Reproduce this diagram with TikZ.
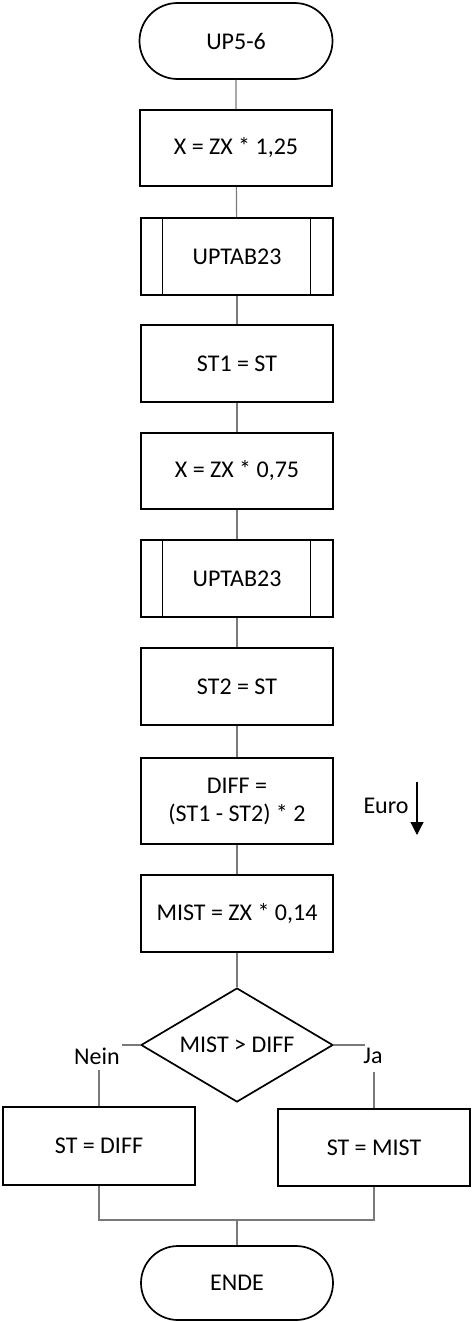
\documentclass[tikz,border=0pt]{standalone}
\usepackage{fontspec}
\setmainfont{Carlito}
\usetikzlibrary{shapes.misc,shapes.geometric,arrows.meta}
\begin{document}
\begin{tikzpicture}[x=1pt,y=-1pt,
  every node/.style={font=\fontsize{24}{28}\selectfont},
  proc/.style={draw=black,line width=1.7pt,rectangle,minimum width=192pt,minimum height=77pt,inner sep=0pt,align=center},
  term/.style={draw=black,line width=1.7pt,rounded rectangle,minimum width=193pt,minimum height=76pt,inner sep=0pt},
  dec/.style={draw=black,line width=1.7pt,diamond,aspect=1.68,minimum width=192pt,minimum height=114pt,inner sep=0pt},
  conn/.style={draw=gray!95!black,line width=1.2pt},
  lbl/.style={inner sep=1pt}]
\useasboundingbox (0,0) rectangle (471,1322);
\node[term] (start) at (236,41) {UP5-6};
\node[proc,minimum height=76pt] (b1) at (236,148) {X = ZX * 1,25};
\node[proc] (b2) at (237,256.5) {UPTAB23};
\node[proc] (b3) at (237,363.5) {ST1 = ST};
\node[proc,minimum height=76pt] (b4) at (237,471) {X = ZX * 0,75};
\node[proc] (b5) at (237,578.5) {UPTAB23};
\node[proc] (b6) at (237,686.5) {ST2 = ST};
\node[proc,minimum height=86pt] (b7) at (237,801) {DIFF =\\(ST1 - ST2) * 2};
\node[proc] (b8) at (237,913.5) {MIST = ZX * 0,14};
\node[dec] (dia) at (237,1045) {MIST > DIFF};
\node[proc,minimum height=78pt] (left) at (99,1146) {ST = DIFF};
\node[proc] (right) at (374,1147.5) {ST = MIST};
\node[term,minimum width=192pt,minimum height=74pt] (end) at (237,1283) {ENDE};
% subroutine inner lines
\foreach \b in {b2,b5}{
  \draw[line width=1.2pt] ([xshift=22pt]\b.north west) -- ([xshift=22pt]\b.south west);
  \draw[line width=1.2pt] ([xshift=-23pt]\b.north east) -- ([xshift=-23pt]\b.south east);
}
% connectors
\draw[conn] (start) -- (b1);
\draw[conn] (b1) -- (b2);
\draw[conn] (b2) -- (b3);
\draw[conn] (b3) -- (b4);
\draw[conn] (b4) -- (b5);
\draw[conn] (b5) -- (b6);
\draw[conn] (b6) -- (b7);
\draw[conn] (b7) -- (b8);
\draw[conn] (b8) -- (dia);
% Euro
\node[lbl] (euro) at (386,806) {Euro};
\coordinate (ea) at (417,782);
\coordinate (eb) at (417,835);
\draw[line width=1.2pt,-{Triangle[length=13pt,width=13pt]}] (ea) -- (eb);
% branches
\coordinate (nl) at (122,1045);
\coordinate (jl) at (365,1045);
\node[lbl] (nein) at (97,1056) {Nein};
\node[lbl] (ja) at (373,1056) {Ja};
\draw[conn] (dia.west) -- (nl);
\draw[conn] (dia.east) -- (jl);
\coordinate (nd) at (99,1070);
\coordinate (jd) at (374,1072);
\draw[conn] (nd) -- (left.north);
\draw[conn] (jd) -- (right.north);
\coordinate (ml) at (99,1220);
\coordinate (mr) at (374,1220);
\coordinate (mc) at (237,1220);
\draw[conn] (left.south) -- (ml) -- (mr) -- (right.south);
\draw[conn] (mc) -- (end.north);
\end{tikzpicture}
\end{document}
